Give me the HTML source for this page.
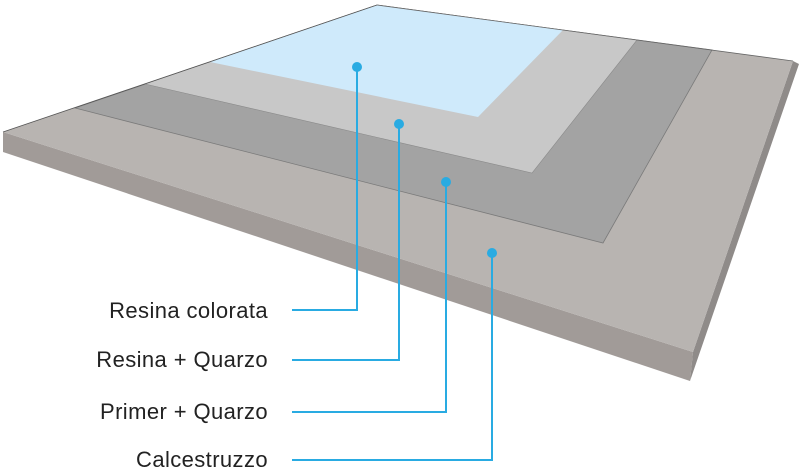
<!DOCTYPE html>
<html><head><meta charset="utf-8"><style>
html,body{margin:0;padding:0;background:#fff;}
body{width:800px;height:474px;overflow:hidden;position:relative;}
svg{position:absolute;left:0;top:0;}
</style></head><body>
<svg width="800" height="474" viewBox="0 0 800 474" xmlns="http://www.w3.org/2000/svg">
<!-- front face -->
<polygon points="3,132 693,352 690,381 3,152" fill="#a19b98"/>
<!-- right face -->
<polygon points="793,61 799,64 690,381 693,352" fill="#8f8b89"/>
<!-- concrete top -->
<polygon points="3,132 377,5 793,61 693,352" fill="#b8b4b1"/>
<!-- primer layer -->
<polygon points="75,108 377,5 712,50 603,243" fill="#a3a3a3" stroke="#7a7a7a" stroke-width="0.8"/>
<!-- resina+quarzo -->
<polygon points="145,84 377,5 637,40 532,173" fill="#c8c8c8" stroke="#8a8a8a" stroke-width="0.6"/>
<!-- resina colorata -->
<polygon points="210,62 377,5 563,30 478,117" fill="#cfeafb"/>
<line x1="3" y1="132" x2="377" y2="5" stroke="#555" stroke-width="0.8"/>
<line x1="377" y1="5" x2="793" y2="61" stroke="#666" stroke-width="0.8"/>
<!-- callouts -->
<g stroke="#29abe2" stroke-width="2" fill="none">
<polyline points="357,67 357,310 292,310"/>
<polyline points="399,124 399,360 292,360"/>
<polyline points="446,182 446,412 292,412"/>
<polyline points="492,253 492,460 292,460"/>
</g>
<g fill="#29abe2">
<circle cx="357" cy="67" r="5"/>
<circle cx="399" cy="124" r="5"/>
<circle cx="446" cy="182" r="5"/>
<circle cx="492" cy="253" r="5"/>
</g>
<g font-family="Liberation Sans, Arial, sans-serif" font-size="22" fill="#222" text-anchor="end" letter-spacing="0.4">
<text x="268" y="318">Resina colorata</text>
<text x="268" y="367">Resina + Quarzo</text>
<text x="268" y="419">Primer + Quarzo</text>
<text x="268" y="467">Calcestruzzo</text>
</g>
</svg>
</body></html>
